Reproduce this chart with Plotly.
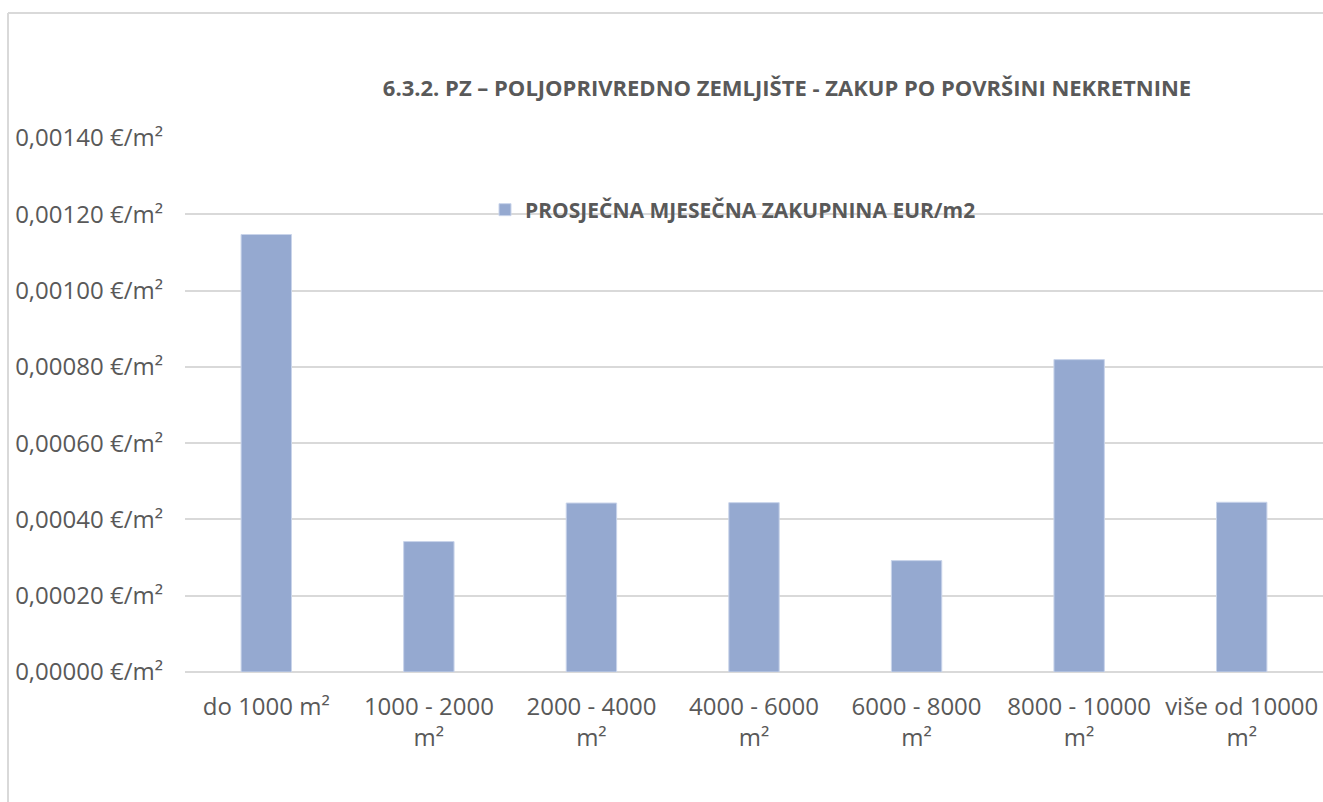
import plotly.graph_objects as go

# kategorije po površini nekretnine
categories = ["do 1000 m²", "1000 - 2000 m²", "2000 - 4000 m²", "4000 - 6000 m²",
              "6000 - 8000 m²", "8000 - 10000 m²", "više od 10000 m²"]
tick_labels = ["do 1000 m²", "1000 - 2000<br>m²", "2000 - 4000<br>m²", "4000 - 6000<br>m²",
               "6000 - 8000<br>m²", "8000 - 10000<br>m²", "više od 10000<br>m²"]
# prosječna mjesečna zakupnina EUR/m2
rent = [0.001147, 0.000342, 0.000443, 0.000444, 0.000292, 0.000819, 0.000445]
y_ticks = [0, 0.0002, 0.0004, 0.0006, 0.0008, 0.0010, 0.0012, 0.0014]
y_labels = [f"{v:.5f}".replace(".", ",") + " €/m²" for v in y_ticks]

TITLE = "6.3.2. PZ – POLJOPRIVREDNO ZEMLJIŠTE - ZAKUP PO POVRŠINI NEKRETNINE"
SERIES = "PROSJEČNA MJESEČNA ZAKUPNINA EUR/m2"
GREY = "#595959"
FONT = "Open Sans"

fig = go.Figure(go.Bar(
    x=categories, y=rent, name=f"<b>{SERIES}</b>",
    marker=dict(color="#95a9d0", line=dict(color="#c9d4ea", width=1)),
))

W, H = 1323, 802
L, R, T, B = 185, 0, 138, 130
pw, ph = W - L - R, H - T - B

fig.update_layout(
    width=W, height=H,
    margin=dict(l=L, r=R, t=T, b=B, autoexpand=False),
    paper_bgcolor="white", plot_bgcolor="white",
    bargap=0.69,
    showlegend=True,
    font=dict(family=FONT, color=GREY, size=24),
    title=dict(text=f"<b>{TITLE}</b>", x=(787 - L) / pw, xref="paper", xanchor="center",
               y=1 - 88 / H, yanchor="middle",
               font=dict(size=22, color=GREY, family=FONT)),
    legend=dict(x=(485 - L) / pw, y=(H - B - 210) / ph, xanchor="left", yanchor="middle",
                bgcolor="rgba(0,0,0,0)", font=dict(size=21, color=GREY, family=FONT),
                itemwidth=30),
    xaxis=dict(tickmode="array", tickvals=categories, ticktext=tick_labels,
               showgrid=False, showline=False, ticks="", tickfont=dict(size=24),
               ticklabelstandoff=18, fixedrange=True),
    yaxis=dict(range=[0, 0.0014], tickmode="array", tickvals=y_ticks, ticktext=y_labels,
               showgrid=True, gridcolor="#d9d9d9", gridwidth=2,
               zeroline=True, zerolinecolor="#d9d9d9", zerolinewidth=2,
               showline=False, ticks="", ticklabelstandoff=21, tickfont=dict(size=24)),
)

# okvir grafikona (lijevi i gornji rub)
fig.add_shape(type="line", xref="paper", yref="paper",
              x0=(8 - L) / pw, x1=(8 - L) / pw, y0=(H - B - 802) / ph, y1=(H - B - 13) / ph,
              line=dict(color="#d9d9d9", width=2))
fig.add_shape(type="line", xref="paper", yref="paper",
              x0=(8 - L) / pw, x1=1.01, y0=(H - B - 13) / ph, y1=(H - B - 13) / ph,
              line=dict(color="#d9d9d9", width=2))

fig.write_html("out.html", config={"displayModeBar": False},
               post_script="document.body.style.margin='0';")
